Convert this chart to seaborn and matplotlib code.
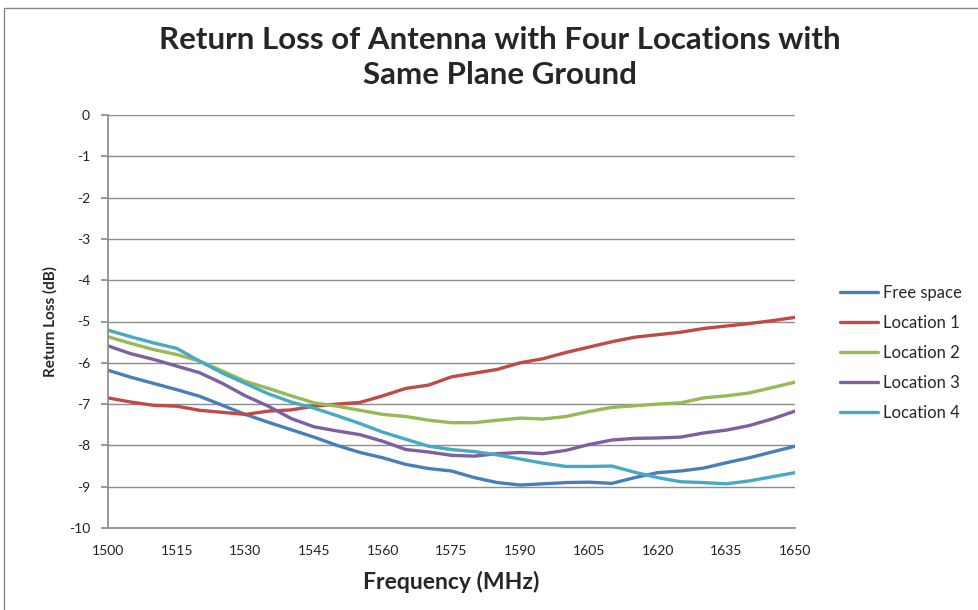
import matplotlib
matplotlib.use("Agg")
import matplotlib.pyplot as plt
import pandas as pd
import seaborn as sns
from matplotlib.patches import Rectangle

frequency = list(range(1500, 1651, 5))

free_space = [-6.18, -6.35, -6.50, -6.65, -6.81, -7.03, -7.25, -7.44, -7.62, -7.80,
              -8.00, -8.17, -8.30, -8.46, -8.56, -8.62, -8.78, -8.90, -8.96, -8.93,
              -8.90, -8.89, -8.92, -8.78, -8.66, -8.62, -8.55, -8.42, -8.30, -8.16, -8.02]
location_1 = [-6.85, -6.95, -7.03, -7.05, -7.15, -7.20, -7.25, -7.17, -7.14, -7.05,
              -7.00, -6.96, -6.80, -6.62, -6.54, -6.34, -6.25, -6.16, -6.00, -5.90,
              -5.75, -5.62, -5.49, -5.38, -5.32, -5.26, -5.17, -5.11, -5.05, -4.98, -4.90]
location_2 = [-5.37, -5.53, -5.68, -5.80, -5.96, -6.20, -6.45, -6.62, -6.80, -6.97,
              -7.05, -7.15, -7.25, -7.30, -7.39, -7.45, -7.45, -7.39, -7.34, -7.36,
              -7.30, -7.18, -7.08, -7.04, -7.00, -6.97, -6.85, -6.80, -6.73, -6.60, -6.47]
location_3 = [-5.59, -5.78, -5.92, -6.08, -6.24, -6.50, -6.80, -7.05, -7.35, -7.55,
              -7.65, -7.74, -7.90, -8.10, -8.16, -8.24, -8.26, -8.20, -8.17, -8.20,
              -8.12, -7.98, -7.87, -7.83, -7.82, -7.80, -7.70, -7.63, -7.52, -7.36, -7.17]
location_4 = [-5.21, -5.37, -5.52, -5.65, -5.96, -6.25, -6.50, -6.75, -6.95, -7.10,
              -7.28, -7.47, -7.68, -7.85, -8.02, -8.10, -8.15, -8.23, -8.33, -8.43,
              -8.51, -8.51, -8.50, -8.65, -8.78, -8.88, -8.90, -8.93, -8.86, -8.76, -8.66]

series_names = ["Free space", "Location 1", "Location 2", "Location 3", "Location 4"]
series_values = [free_space, location_1, location_2, location_3, location_4]
colors = ["#4A7EBB", "#BE4B48", "#98B954", "#7D60A0", "#46AAC5"]

frames = [pd.DataFrame({"Frequency": frequency, "Return Loss": values, "Series": name})
          for name, values in zip(series_names, series_values)]
data = pd.concat(frames, ignore_index=True)

sns.set_theme(style="white")
plt.rcParams["font.family"] = ["Lato", "DejaVu Sans"]
plt.rcParams["axes.unicode_minus"] = False

fig = plt.figure(figsize=(9.79, 6.10), dpi=100)
ax = fig.add_axes([108 / 979, 1 - 528 / 610, 687 / 979, 413 / 610])

sns.lineplot(data=data, x="Frequency", y="Return Loss", hue="Series",
             palette=colors, linewidth=2.4, ax=ax)

ax.set_xlim(1500, 1650)
ax.set_ylim(-10, 0)
ax.set_xticks(range(1500, 1651, 15))
ax.set_yticks(range(-10, 1, 1))
ax.yaxis.grid(True, color="#8C8C8C", linewidth=1.0)
ax.xaxis.grid(False)
ax.set_axisbelow(True)
for side in ["top", "right"]:
    ax.spines[side].set_visible(False)
ax.spines["left"].set_color("#8C8C8C")
ax.spines["bottom"].set_color("#8C8C8C")
ax.tick_params(axis="y", which="major", direction="out", length=5, color="#8C8C8C",
               labelsize=10, labelcolor="#222222", left=True, pad=8)
ax.tick_params(axis="x", length=0, labelsize=10, labelcolor="#222222", pad=12)

ax.set_xlabel("Frequency (MHz)", fontsize=16.5, fontweight="bold", labelpad=10)
ax.set_ylabel("Return Loss (dB)", fontsize=11, fontweight="bold", labelpad=8)

fig.text(0.511, 0.906, "Return Loss of Antenna with Four Locations with\nSame Plane Ground",
         ha="center", va="center", fontsize=22.5, fontweight="bold", linespacing=1.3)

ax.legend(title=None, frameon=False, loc="center left", bbox_to_anchor=(1.043, 0.424),
          fontsize=12, handlelength=2.3, handletextpad=0.3, labelspacing=0.85)

fig.patches.append(Rectangle((4 / 979, -0.02), 1.0, 1 - 8 / 610 + 0.02,
                             transform=fig.transFigure, fill=False,
                             edgecolor="#888888", linewidth=1.0))

fig.savefig("out.png", dpi=100)
